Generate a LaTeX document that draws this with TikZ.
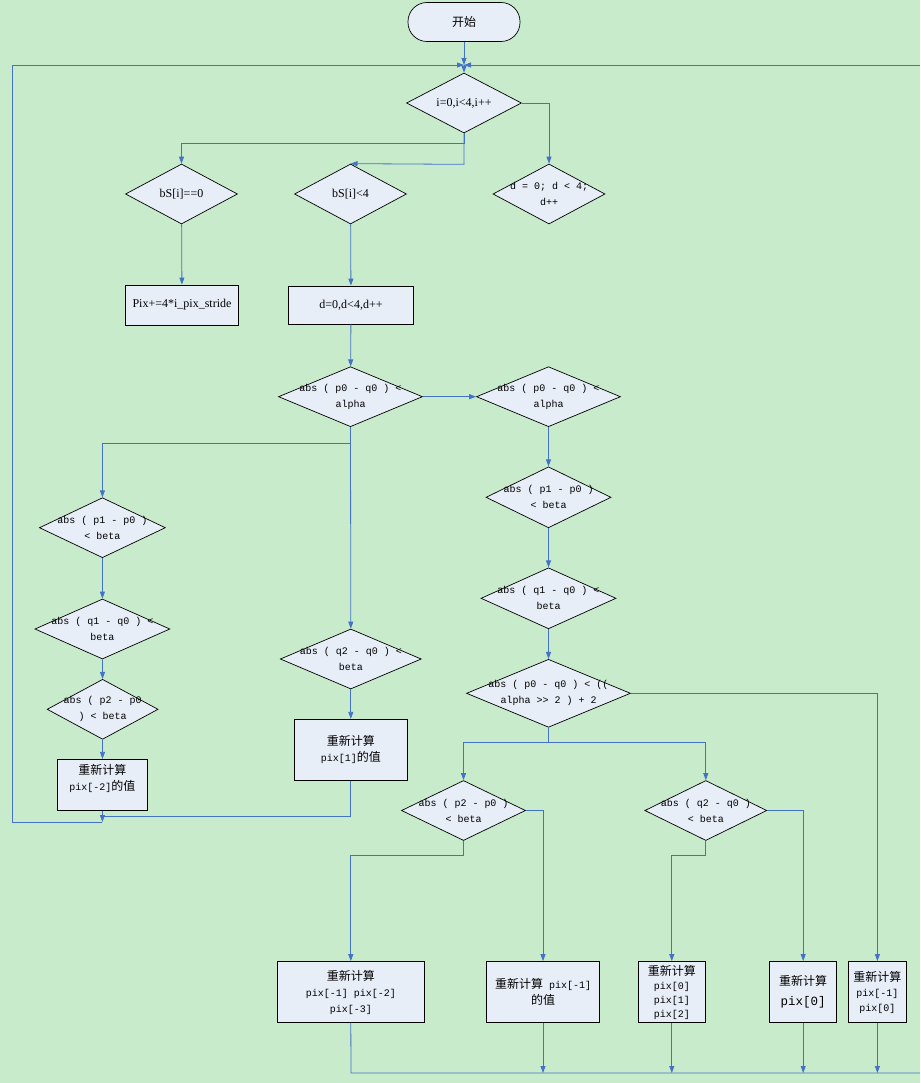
\documentclass[tikz,border=0pt]{standalone}
\usepackage{fontspec}
\setmainfont{Liberation Serif}
\newfontfamily\cjk{Noto Sans CJK SC}
\newfontfamily\hw{Liberation Mono}
\newcommand\zhtxt[1]{{\cjk\fontsize{12}{15}\selectfont #1}}
\usetikzlibrary{shapes.geometric,arrows.meta}
\definecolor{bgcol}{HTML}{C8ECCB}
\definecolor{boxcol}{HTML}{E8EEF8}
\definecolor{linecol}{HTML}{4472C4}
\tikzset{
  dec/.style={diamond,draw,fill=boxcol,line width=0.7pt,inner sep=0pt},
  proc/.style={rectangle,draw,fill=boxcol,line width=0.8pt,align=center,inner sep=1pt},
  zhbox/.style={proc,font=\hw\fontsize{10}{16}\selectfont},
  term/.style={rectangle,rounded corners=19pt,draw,fill=boxcol,line width=0.7pt,
    minimum width=112pt,minimum height=39pt},
  txt/.style={align=center},
  hwt/.style={align=center,font=\hw\fontsize{10}{16}\selectfont},
  link/.style={draw=linecol,line width=0.8pt},
  arr/.style={link,-{Triangle[length=7pt,width=5pt]}},
}
\begin{document}
\begin{tikzpicture}[x=1pt,y=-1pt,font=\fontsize{12}{15}\selectfont]
  \fill[bgcol] (0,0) rectangle (920,1083);
  \useasboundingbox (0,0) rectangle (920,1083);
  % 开始与外层循环
  \node[term] (start) at (464,22) {\zhtxt{开始}};
  \node[dec,minimum width=115pt,minimum height=60pt,label={[txt]center:{i=0,i<4,i++}}] (d0) at (464,103) {};
  \node[dec,minimum width=112pt,minimum height=60pt,label={[txt]center:{bS[i]==0}}] (z0) at (181.5,194) {};
  \node[dec,minimum width=112pt,minimum height=60pt,label={[txt]center:{bS[i]<4}}] (z4) at (350.5,194) {};
  \node[dec,minimum width=112pt,minimum height=60pt,label={[hwt]center:{d = 0; d < 4;\\d++}}] (dl) at (549,194) {};
  \node[proc,minimum width=113pt,minimum height=40pt] (px) at (182,305) {Pix+=4*i\_pix\_stride};
  \node[proc,minimum width=125pt,minimum height=38pt] (dd) at (351,305) {d=0,d<4,d++};
  % 判断
  \node[dec,minimum width=144pt,minimum height=60pt,label={[hwt]center:{abs ( p0 - q0 ) <\\alpha}}] (pa) at (350.5,396.7) {};
  \node[dec,minimum width=144pt,minimum height=60pt,label={[hwt]center:{abs ( p0 - q0 ) <\\alpha}}] (pb) at (548.5,396.7) {};
  \node[dec,minimum width=126pt,minimum height=60pt,label={[hwt]center:{abs ( p1 - p0 )\\< beta}}] (la) at (102.4,527.7) {};
  \node[dec,minimum width=135pt,minimum height=60pt,label={[hwt]center:{abs ( q1 - q0 ) <\\beta}}] (lb) at (102.4,629) {};
  \node[dec,minimum width=111pt,minimum height=60pt,label={[hwt]center:{abs ( p2 - p0\\) < beta}}] (lc) at (102.6,709.3) {};
  \node[dec,minimum width=141pt,minimum height=60pt,label={[hwt]center:{abs ( q2 - q0 ) <\\beta}}] (mq) at (350.8,659) {};
  \node[dec,minimum width=125pt,minimum height=61pt,label={[hwt]center:{abs ( p1 - p0 )\\< beta}}] (ra) at (548.5,497.3) {};
  \node[dec,minimum width=135pt,minimum height=61pt,label={[hwt]center:{abs ( q1 - q0 ) <\\beta}}] (rb) at (548.5,598.3) {};
  \node[dec,minimum width=164pt,minimum height=68pt,label={[hwt]center:{abs ( p0 - q0 ) < ((\\alpha >{}> 2 ) + 2}}] (rc) at (548.5,693.3) {};
  \node[dec,minimum width=124pt,minimum height=60pt,label={[hwt]center:{abs ( p2 - p0 )\\< beta}}] (rp) at (463.5,810.5) {};
  \node[dec,minimum width=122pt,minimum height=60pt,label={[hwt]center:{abs ( q2 - q0 )\\< beta}}] (rq) at (705.8,810.5) {};
  % 重新计算
  \node[zhbox,minimum width=113pt,minimum height=61pt] (m1) at (350.8,749.8) {\zhtxt{重新计算}\\pix[1]\zhtxt{的值}};
  \node[zhbox,minimum width=90pt,minimum height=51pt,text depth=14pt] (l2) at (102.4,784.8) {\zhtxt{重新计算}\\pix[-2]\zhtxt{的值}};
  \node[zhbox,minimum width=147pt,minimum height=61pt] (b1) at (350.8,992) {\zhtxt{重新计算}\\pix[-1] pix[-2]\\pix[-3]};
  \node[zhbox,minimum width=113pt,minimum height=61pt] (b2) at (543,992) {\zhtxt{重新计算} pix[-1]\\\zhtxt{的值}};
  \node[zhbox,minimum width=67pt,minimum height=61pt,font=\hw\fontsize{10}{14}\selectfont] (b3) at (671.8,992) {\zhtxt{重新计算}\\pix[0]\\pix[1]\\pix[2]};
  \node[zhbox,minimum width=67pt,minimum height=61pt,font=\hw\fontsize{12.5}{20}\selectfont] (b4) at (803.2,992) {\zhtxt{重新计算}\\pix[0]};
  \node[zhbox,minimum width=58pt,minimum height=61pt,font=\hw\fontsize{10}{15}\selectfont] (b5) at (877.4,992) {\zhtxt{重新计算}\\pix[-1]\\pix[0]};
  \coordinate (jn) at (464,65);
  \coordinate (jr) at (920,65);
  \coordinate (mj) at (102.4,816);
  \coordinate (lk) at (102.4,822);
  \coordinate (lx) at (12,822);
  \coordinate (bl) at (351,1073);
  \coordinate (br) at (920,1073);
  % 连线
  \draw[arr] (start) -- (jn);
  \draw[arr] (jn) -- (d0);
  \draw[arr] (jr) -- (jn);
  \draw[arr] (d0.east) -| (dl.north);
  \draw[arr] (d0.south) -- ++(0,10) -| (z0.north);
  \draw[arr] (d0.south) -- ++(0,31) -- (z4.north);
  \draw[arr] (z0) -- (px);
  \draw[arr] (z4) -- (dd);
  \draw[arr] (dd) -- (pa);
  \draw[arr] (pa) -- (pb);
  \draw[arr] (pa.south) -- ++(0,16) -| (la.north);
  \draw[arr] (pa.south) -- (mq.north);
  \draw[arr] (la) -- (lb);
  \draw[arr] (lb) -- (lc);
  \draw[arr] (lc) -- (l2);
  \draw[arr] (mq) -- (m1);
  \draw[arr] (pb) -- (ra);
  \draw[arr] (ra) -- (rb);
  \draw[arr] (rb) -- (rc);
  \draw[arr] (rc.east) -| (b5.north);
  \draw[arr] (rc.south) -- ++(0,15) -| (rp.north);
  \draw[arr] (rc.south) -- ++(0,15) -| (rq.north);
  \draw[arr] (rp.east) -| (b2.north);
  \draw[arr] (rp.south) -- ++(0,15) -| (b1.north);
  \draw[arr] (rq.east) -| (b4.north);
  \draw[arr] (rq.south) -- ++(0,15) -| (b3.north);
  % 回到循环
  \draw[link] (m1.south) |- (mj);
  \draw[arr] (l2.south) -- (lk);
  \draw[arr] (lk) -- (lx) |- (jn);
  \draw[link] (b1.south) -- (bl) -- (br);
  \foreach \b in {b2,b3,b4,b5}
    \draw[arr] (\b.south) -- (\b.south |- bl);
\end{tikzpicture}
\end{document}
